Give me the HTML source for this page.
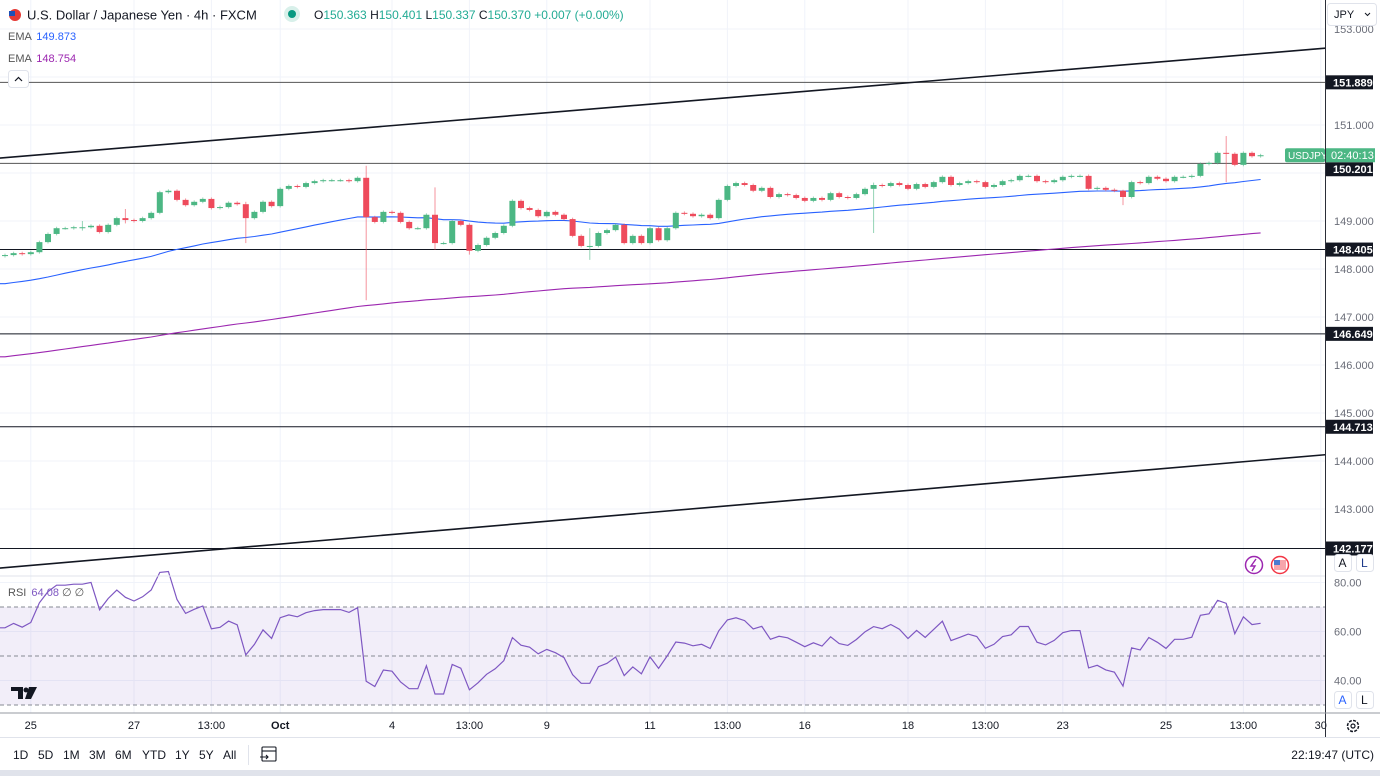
<!DOCTYPE html>
<html><head><meta charset="utf-8">
<style>
html,body{margin:0;padding:0;background:#fff;width:1380px;height:776px;overflow:hidden;font-family:"Liberation Sans",sans-serif;}
svg{display:block}
</style></head>
<body>
<svg id="chart" width="1380" height="776" xmlns="http://www.w3.org/2000/svg" font-family="Liberation Sans, sans-serif">
<rect x="0" y="0" width="1380" height="776" fill="#ffffff"/>
<g id="grid"></g>
<rect x="0" y="607" width="1325" height="98" fill="#7e57c2" fill-opacity="0.1"/>
<g id="levels"></g>
<g id="trend"></g>
<g id="emas"></g>
<g id="candles"></g>
<g id="rsi"></g>
<g id="axis"></g>
<g id="taxis"></g>
<line x1="1325.5" y1="0" x2="1325.5" y2="737" stroke="#2a2e39" stroke-width="1"/>
<line x1="0" y1="576" x2="1325" y2="576" stroke="#e0e3eb"/>
<line x1="0" y1="713" x2="1380" y2="713" stroke="#9598a1"/>
<line x1="0" y1="737.5" x2="1380" y2="737.5" stroke="#e0e3eb"/>
<rect x="0" y="770" width="1380" height="6" fill="#e0e3eb"/>

<g>
  <circle cx="15" cy="15" r="6" fill="#e53935"/>
  <rect x="9" y="11" width="6" height="5" fill="#1e4fb5"/>
  <text x="27" y="19.5" font-size="13" fill="#131722">U.S. Dollar / Japanese Yen · 4h · FXCM</text>
  <circle cx="292" cy="14" r="8" fill="#d8f0ea"/>
  <circle cx="292" cy="14" r="4" fill="#089981"/>
  <text x="314" y="19" font-size="12" fill="#131722">O<tspan fill="#22ab94">150.363</tspan> H<tspan fill="#22ab94">150.401</tspan> L<tspan fill="#22ab94">150.337</tspan> C<tspan fill="#22ab94">150.370</tspan> <tspan fill="#22ab94">+0.007 (+0.00%)</tspan></text>
  <text x="8" y="40" font-size="11" fill="#555">EMA <tspan fill="#2962ff" dx="2">149.873</tspan></text>
  <text x="8" y="62" font-size="11" fill="#555">EMA <tspan fill="#9c27b0" dx="2">148.754</tspan></text>
  <rect x="8.5" y="70.5" width="20" height="17" rx="3" fill="#fff" stroke="#e0e3eb"/>
  <path d="M15 81 L18.5 77.5 L22 81" fill="none" stroke="#131722" stroke-width="1.2"/>
</g>
<g>
  <rect x="1327.5" y="3.5" width="49" height="22" rx="3" fill="#fff" stroke="#e0e3eb"/>
  <text x="1334" y="18" font-size="11" fill="#131722">JPY</text>
  <path d="M1365 13 L1367.5 15.5 L1370 13" fill="none" stroke="#131722"/>
</g>
<g>
  <circle cx="1254" cy="565" r="8.5" fill="#fff" stroke="#9c27b0" stroke-width="1.5"/>
  <path d="M1256 559 L1251 566 L1255 566 L1252 571" fill="none" stroke="#9c27b0" stroke-width="1.4"/>
  <circle cx="1280" cy="565" r="8.5" fill="#fff" stroke="#f23645" stroke-width="1.5"/>
  <rect x="1274" y="560" width="12" height="10" fill="#f7a5ab"/>
  <rect x="1274" y="560" width="6" height="5" fill="#4a7bd0"/>
</g>
<g font-size="12" fill="#131722">
  <rect x="1334.5" y="554.5" width="17" height="17" rx="3" fill="#fff" stroke="#e0e3eb"/>
  <text x="1338.5" y="567">A</text>
  <rect x="1356.5" y="554.5" width="17" height="17" rx="3" fill="#fff" stroke="#e0e3eb"/>
  <text x="1361" y="567" fill="#1e3a8a">L</text>
  <rect x="1334.5" y="691.5" width="17" height="17" rx="3" fill="#fff" stroke="#e0e3eb"/>
  <text x="1338.5" y="704" fill="#2962ff">A</text>
  <rect x="1356.5" y="691.5" width="17" height="17" rx="3" fill="#fff" stroke="#e0e3eb"/>
  <text x="1361" y="704">L</text>
</g>
<text x="8" y="596" font-size="11" fill="#555">RSI <tspan fill="#7e57c2" dx="2">64.08</tspan> <tspan fill="#555">∅ ∅</tspan></text>
<g>
  <path d="M11 687 H23 V699 H18 V691 H11 Z" fill="#131722"/>
  <circle cx="26" cy="690" r="2.5" fill="#131722"/>
  <path d="M29 687 H37 L31 699 H25 Z" fill="#131722"/>
</g>
<g>
  <circle cx="1353" cy="726" r="5.5" fill="none" stroke="#131722" stroke-width="1.5" stroke-dasharray="3 1.3"/>
  <circle cx="1353" cy="726" r="2" fill="none" stroke="#131722" stroke-width="1.2"/>
</g>
<g font-size="12" fill="#131722">
  <text x="13" y="759">1D</text>
  <text x="38" y="759">5D</text>
  <text x="63" y="759">1M</text>
  <text x="89" y="759">3M</text>
  <text x="115" y="759">6M</text>
  <text x="142" y="759">YTD</text>
  <text x="175" y="759">1Y</text>
  <text x="199" y="759">5Y</text>
  <text x="223" y="759">All</text>
  <line x1="248.5" y1="745" x2="248.5" y2="765" stroke="#e0e3eb"/>
  <g fill="none" stroke="#131722" stroke-width="1.1">
    <rect x="262" y="747" width="14" height="14" rx="1"/>
    <line x1="262" y1="751" x2="276" y2="751"/>
    <path d="M260 757 H268 M266 755 L268 757 L266 759"/>
  </g>
  <text x="1374" y="759" text-anchor="end">22:19:47 (UTC)</text>
</g>

<script>
const closes = [148.29,148.33,148.31,148.35,148.56,148.73,148.85,148.85,148.87,148.87,148.90,148.77,148.92,149.06,149.02,149.00,149.06,149.17,149.60,149.63,149.44,149.33,149.40,149.46,149.27,149.29,149.38,149.35,149.06,149.19,149.40,149.31,149.67,149.73,149.71,149.79,149.83,149.85,
149.85,149.85,149.83,149.90,149.08,148.98,149.19,149.17,148.98,148.85,148.85,149.13,148.54,148.54,149.00,148.92,148.38,148.50,148.65,148.75,148.90,149.42,149.27,149.23,149.10,149.19,149.13,149.04,148.69,148.48,148.48,148.75,148.81,148.92,148.54,148.69,148.54,148.85,148.60,
148.85,149.17,149.15,149.10,149.13,149.06,149.44,149.73,149.79,149.75,149.63,149.69,149.50,149.56,149.54,149.48,149.42,149.48,149.44,149.58,149.50,149.48,149.56,149.67,149.75,149.73,149.79,149.75,149.67,149.77,149.71,149.81,149.92,149.75,149.79,149.83,149.81,149.71,
149.75,149.83,149.85,149.94,149.94,149.83,149.81,149.85,149.92,149.94,149.94,149.67,149.69,149.65,149.63,149.50,149.81,149.79,149.92,149.88,149.83,149.92,149.92,149.94,150.19,150.21,150.42,150.40,150.17,150.42,150.35,150.37];
const firstOpen = 148.27;
const wickIdx = [42, 28, 101, 142, 130, 68, 50, 54, 14, 9];
const wickHigh = [150.15, 149.40, 149.80, 150.77, 149.65, 148.85, 149.70, 148.95, 149.25, 149.00];
const wickLow = [147.35, 148.54, 148.75, 149.81, 149.33, 148.19, 148.40, 148.30, 148.95, 148.80];
const emaFastSeed = 147.67, emaFastPeriod = 50;
const emaSlowSeed = 146.15, emaSlowPeriod = 200;
const rsiSeedGain = 0.040, rsiSeedLoss = 0.026, rsiPeriod = 14;
const levelPrices = [151.889, 150.201, 148.405, 146.649, 144.713, 142.177];
const levelColors = ["#555","#555","#131722","#131722","#131722","#131722"];
const trendStartIdx = [-0.6, -0.6], trendEndIdx = [153.5, 153.5];
const trendStartPrice = [150.31, 141.77], trendEndPrice = [152.60, 144.13];
const priceTicks = [153,152,151,150,149,148,147,146,145,144,143];
const rsiTicks = [80,60,40];
const timeLabels = ["25","27","13:00","Oct","4","13:00","9","11","13:00","16","18","13:00","23","25","13:00","30"];
const timeLabelIdx = [3,15,24,32,45,54,63,75,84,93,105,114,123,135,144,153];

const xOf = i => 5 + i*8.6;
const yOf = p => 173 - (p-150)*48;
const yRsi = r => 656 - (r-50)*2.45;
const NS="http://www.w3.org/2000/svg";
function mk(tag, attrs, parent){const e=document.createElementNS(NS,tag);for(const k in attrs)e.setAttribute(k,attrs[k]);parent.appendChild(e);return e;}
const G=id=>document.getElementById(id);

const gridX = timeLabelIdx.map(xOf);
gridX.forEach(x=>{const l=mk('line',{x1:x,y1:0,x2:x,y2:713,stroke:'#f0f3fa'},G('grid'));

});
priceTicks.forEach(p=>{const l=mk('line',{x1:0,y1:yOf(p),x2:1325,y2:yOf(p),stroke:'#f0f3fa'},G('grid'));

});
rsiTicks.forEach(r=>{const l=mk('line',{x1:0,y1:yRsi(r),x2:1325,y2:yRsi(r),stroke:'#f0f3fa'},G('grid'));

});

levelPrices.forEach((p,k)=>{const l=mk('line',{x1:0,y1:yOf(p),x2:1325,y2:yOf(p),stroke:levelColors[k],'stroke-width':1},G('levels'));

});

for(let k=0;k<2;k++){const l=mk('line',{x1:xOf(trendStartIdx[k]),y1:yOf(trendStartPrice[k]),x2:xOf(trendEndIdx[k]),y2:yOf(trendEndPrice[k]),stroke:'#131722','stroke-width':1.6},G('trend'));

}

function ema(seed, period){const a=2/(period+1);let v=seed;return closes.map(c=>(v=v+a*(c-v)));}
[[ema(emaFastSeed,emaFastPeriod),'#2962ff','ema-fast-line'],[ema(emaSlowSeed,emaSlowPeriod),'#9c27b0','ema-slow-line']].forEach(([arr,col,nm])=>{
  const pts=[[ -5, arr[0]]].concat(arr.map((v,i)=>[xOf(i),v]));
  const d=pts.map((p,i)=>(i?'L':'M')+p[0].toFixed(1)+' '+yOf(p[1]).toFixed(1)).join(' ');
  const l=mk('path',{d:d,fill:'none',stroke:col,'stroke-width':1.1},G('emas'));
  
  
});

closes.forEach((c,i)=>{
  const o = i===0?firstOpen:closes[i-1];
  const up = c>=o;
  const col = up?'#4cb784':'#ee4b5c';
  let hi=Math.max(o,c)+0.03, lo=Math.min(o,c)-0.03;
  const w=wickIdx.indexOf(i); if(w>=0){hi=wickHigh[w];lo=wickLow[w];}
  const x=xOf(i);
  const g=mk('g',{},G('candles'));
  
  
  mk('line',{x1:x,y1:yOf(hi),x2:x,y2:yOf(lo),stroke:col,'stroke-opacity':0.6,'stroke-width':1},g);
  const yt=yOf(Math.max(o,c)), yb=yOf(Math.min(o,c));
  mk('rect',{x:x-3,y:yt,width:6,height:Math.max(1,yb-yt),fill:col},g);
});

(function(){
  let ag=rsiSeedGain, al=rsiSeedLoss; const vals=[];
  closes.forEach((c,i)=>{const o=i===0?firstOpen:closes[i-1];const d=c-o;
    ag=(ag*(rsiPeriod-1)+Math.max(d,0))/rsiPeriod; al=(al*(rsiPeriod-1)+Math.max(-d,0))/rsiPeriod;
    vals.push(100-100/(1+ag/al));});
  [70,50,30].forEach(r=>{const l=mk('line',{x1:0,y1:yRsi(r),x2:1325,y2:yRsi(r),stroke:'#868993','stroke-dasharray':'4 3'},G('rsi'));
  
  });
  const d=vals.map((v,i)=>(i?'L':'M')+xOf(i).toFixed(1)+' '+yRsi(v).toFixed(1)).join(' ');
  const p=mk('path',{d:'M-5 '+yRsi(vals[0]).toFixed(1)+' L'+d.slice(1),fill:'none',stroke:'#7e57c2','stroke-width':1.2},G('rsi'));
  
  
})();

// level label positions (150.201 is pushed below the last-price tag)
const lastY = yOf(closes[closes.length-1]);
const levelLabelY = levelPrices.map(p=>{const y=yOf(p); return Math.abs(y-lastY)<14 ? lastY+14 : y;});

priceTicks.forEach(p=>{const y=yOf(p);
  if(levelLabelY.some(ly=>Math.abs(ly-y)<12) || Math.abs(lastY-y)<12) return;
  const t=mk('text',{x:1334,y:y+4,'font-size':11,fill:'#6a6d78'},G('axis'));t.textContent=p.toFixed(3);
  
  });
rsiTicks.forEach(r=>{const t=mk('text',{x:1334,y:yRsi(r)+4,'font-size':11,fill:'#6a6d78'},G('axis'));t.textContent=r.toFixed(2);

});
levelPrices.forEach((p,k)=>{const y=levelLabelY[k];
  const r=mk('rect',{x:1326,y:y-7,width:47,height:14,fill:'#131722'},G('axis'));
  
  
  const t=mk('text',{x:1333,y:y+4,'font-size':11,fill:'#fff','font-weight':'bold'},G('axis'));t.textContent=p.toFixed(3);
  
  });
(function(){const y=lastY;
  const r1=mk('rect',{x:1285,y:y-7,width:40,height:14,rx:2,fill:'#4cb784'},G('axis'));
  
  
  const t1=mk('text',{x:1288,y:y+4,'font-size':10,fill:'#fff'},G('axis'));t1.textContent='USDJPY';
  
  
  const r2=mk('rect',{x:1326,y:y-7,width:49,height:14,fill:'#4cb784'},G('axis'));
  
  
  const t2=mk('text',{x:1331,y:y+4,'font-size':11,fill:'#fff'},G('axis'));t2.textContent='02:40:13';
  
  
})();

timeLabels.forEach((s,k)=>{const t=mk('text',{x:xOf(timeLabelIdx[k]),y:729,'font-size':11,fill:'#131722','text-anchor':'middle','font-weight':s==='Oct'?'bold':'normal'},G('taxis'));t.textContent=s;

});
</script>
</svg>
</body></html>
